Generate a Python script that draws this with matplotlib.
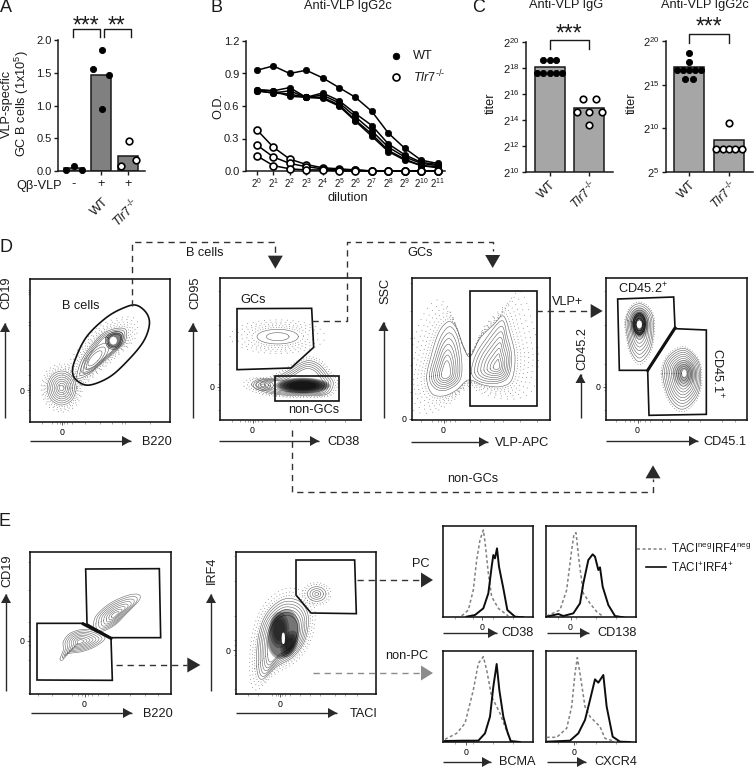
import numpy as np
import matplotlib
matplotlib.use("Agg")
import matplotlib.pyplot as plt
from matplotlib.patches import Polygon

plt.rcParams['font.family'] = ['Liberation Sans', 'DejaVu Sans']
plt.rcParams['mathtext.fontset'] = 'custom'
plt.rcParams['mathtext.rm'] = 'Liberation Sans'
plt.rcParams['mathtext.it'] = 'Liberation Sans:italic'
plt.rcParams['mathtext.default'] = 'regular'

W, H = 755, 767
fig = plt.figure(figsize=(W/100, H/100), dpi=100, facecolor='white')
TLR = r'$\mathit{Tlr7}^{\u2010/\u2010}$'.replace(r'\u2010', '\u2010')
INK = '#1a1a1a'
FS = 9.2

# ---------- data ----------
a_bars = [0.04, 1.46, 0.23]
a_pts_x = [[-0.28, 0.0, 0.28], [-0.28, 0.02, 0.29, 0.02], [-0.27, 0.02, 0.29]]
a_pts_y = [[0.01, 0.08, 0.01], [1.56, 1.85, 1.47, 0.95], [0.07, 0.46, 0.17]]

dil = list(range(12))
wt_curves = [
    [.93, .97, .90, .93, .86, .77, .68, .55, .35, .21, .10, .07],
    [.75, .74, .77, .68, .72, .65, .53, .42, .25, .15, .08, .06],
    [.74, .72, .74, .68, .70, .63, .50, .37, .22, .13, .07, .05],
    [.74, .72, .71, .68, .68, .61, .47, .34, .19, .11, .05, .04],
    [.75, .74, .69, .68, .67, .60, .46, .32, .18, .10, .05, .03],
]
ko_curves = [
    [.38, .22, .11, .06, .03, .02, .01, .0, .0, .0, .0, .0],
    [.24, .13, .07, .04, .02, .01, .01, .0, .0, .0, .0, .0],
    [.14, .05, .02, .01, .01, .0, .0, .0, .0, .0, .0, .0],
]

c1_bars = [18.07, 14.95]
c1_wt_x = [-0.32, -0.16, 0, 0.16, 0.32, -0.16, 0, 0.16]
c1_wt_y = [17.62, 17.62, 17.62, 17.62, 17.62, 18.62, 18.62, 18.62]
c1_ko_x = [-0.32, 0, 0.32, -0.16, 0.16, 0]
c1_ko_y = [14.65, 14.65, 14.65, 15.65, 15.65, 13.65]

c2_bars = [17.0, 8.64]
c2_wt_x = [0, 0, -0.3, -0.15, 0, 0.15, 0.3, -0.1, 0.1]
c2_wt_y = [18.6, 17.6, 16.67, 16.67, 16.67, 16.67, 16.67, 15.64, 15.64]
c2_ko_x = [0, -0.32, -0.16, 0, 0.16, 0.32]
c2_ko_y = [10.6, 7.64, 7.64, 7.64, 7.64, 7.64]


def axpx(x0, y0, x1, y1, **kw):
    return fig.add_axes([x0/W, 1-y1/H, (x1-x0)/W, (y1-y0)/H], **kw)


def style(ax):
    for s in ('top', 'right'):
        ax.spines[s].set_visible(False)
    for s in ('left', 'bottom'):
        ax.spines[s].set_linewidth(1.1)
        ax.spines[s].set_color(INK)
    ax.tick_params(length=3, width=1.0, color=INK, pad=1.5, labelsize=8, labelcolor=INK)
    ax.patch.set_alpha(0)


# ---------- panel A ----------
ax = axpx(58, 40, 145, 171)
style(ax)
ax.bar(range(3), a_bars, width=0.77, color='#808080', edgecolor=INK, linewidth=1.1)
for i in range(3):
    ax.scatter(np.array(a_pts_x[i])+i, a_pts_y[i], s=23 if i == 2 else 20,
               c='white' if i == 2 else 'black', edgecolors='black', linewidths=1.2 if i == 2 else 0.6,
               zorder=3, clip_on=False)
ax.set_xlim(-0.593, 2.63)
ax.set_ylim(0, 2)
ax.set_yticks([0, .5, 1, 1.5, 2], ['0.0', '0.5', '1.0', '1.5', '2.0'])
ax.set_xticks([1, 2], ['', ''])

# ---------- panel B ----------
ax = axpx(245.7, 41, 445, 171)
style(ax)
for c in wt_curves:
    ax.plot(dil, c, '-o', color='black', lw=1.1, ms=4.6, mfc='black', mew=0.5, clip_on=False, zorder=3)
for c in ko_curves:
    ax.plot(dil, c, '-o', color='black', lw=1.1, ms=5, mfc='white', mew=1.2, clip_on=False, zorder=4)
ax.set_xlim(-0.68, 11.45)
ax.set_ylim(0, 1.2)
ax.set_yticks([0, .3, .6, .9, 1.2], ['0.0', '0.3', '0.6', '0.9', '1.2'])
ax.set_xticks(dil, [rf'$2^{{{d}}}$' for d in dil])
ax.tick_params(axis='x', labelsize=7, pad=1)


# ---------- panel C ----------
def titer(box, ylim, yt, bars, wx, wy, kx, ky):
    ax = axpx(*box)
    style(ax)
    ax.bar([0, 1], bars, width=0.75, color='#a6a6a6', edgecolor=INK, linewidth=1.1, bottom=0)
    ax.scatter(wx, wy, s=20, c='black', edgecolors='black', linewidths=0.6, zorder=3, clip_on=False)
    ax.scatter(np.array(kx)+1, ky, s=22, c='white', edgecolors='black', linewidths=1.2, zorder=3, clip_on=False)
    ax.set_ylim(*ylim)
    ax.set_yticks(yt, [rf'$2^{{{v}}}$' for v in yt])
    ax.set_xticks([0, 1])
    ax.set_xticklabels(['WT', TLR], rotation=45, ha='right', rotation_mode='anchor', fontsize=FS)
    ax.tick_params(axis='x', pad=1.5)
    return ax


ax = titer((526, 42, 613, 172), (10, 20), [10, 12, 14, 16, 18, 20], c1_bars, c1_wt_x, c1_wt_y, c1_ko_x, c1_ko_y)
ax.set_xlim(-0.6, 1.6)
ax = titer((666, 41, 753, 172), (5, 20), [5, 10, 15, 20], c2_bars, c2_wt_x, c2_wt_y, c2_ko_x, c2_ko_y)
ax.set_xlim(-0.58, 1.6)

# ---------- overlay in reference pixels ----------
ov = fig.add_axes([0, 0, 1, 1], zorder=20)
ov.set_xlim(0, W)
ov.set_ylim(H, 0)
ov.axis('off')


def z3(p):
    return np.array(p, float)/3+[0, 230]


def z4(p):
    return np.array(p, float)/3+[370, 230]


def z5(p):
    return np.array(p, float)/3+[0, 510]


def z6(p):
    return np.array(p, float)/3+[420, 510]


def txt(x, y, s, size=FS, rot=0, ha='center', va='center', **kw):
    ov.text(x, y, s, fontsize=size, rotation=rot, ha=ha, va=va, color=INK, **kw)


def tri(x, y, direction, length=12, width=14, color='#2a2a2a'):
    dx, dy = {'r': (1, 0), 'l': (-1, 0), 'u': (0, -1), 'd': (0, 1)}[direction]
    px, py = -dy, dx
    ov.add_patch(Polygon([[x+dx*length, y+dy*length],
                          [x+px*width/2, y+py*width/2],
                          [x-px*width/2, y-py*width/2]], closed=True, fc=color, ec='none'))


def solid_arrow(x0, y0, x1, y1):
    ov.plot([x0, x1], [y0, y1], color='#2a2a2a', lw=1.0, solid_capstyle='butt')
    if x1 > x0:
        tri(x1-9, y1, 'r', 9, 10)
    else:
        tri(x1, y1+9, 'u', 9, 10)


def dashed(pts, color='#333333'):
    pts = np.array(pts)
    ov.plot(pts[:, 0], pts[:, 1], color=color, lw=1.0, ls=(0, (4.5, 3.5)))


# letters and titles
for (x, y, s) in [(6, 7, 'A'), (216, 7, 'B'), (479, 7, 'C'), (6, 247, 'D'), (5, 521, 'E')]:
    txt(x, y, s, size=13)
txt(348, 6, 'Anti-VLP IgG2c')
txt(566, 5, 'Anti-VLP IgG')
txt(705, 5, 'Anti-VLP IgG2c')
txt(348, 198, 'dilution')
txt(218, 106, 'O.D.', rot=90)
txt(491, 103, 'titer', rot=90)
txt(632, 103, 'titer', rot=90)

# panel A annotations
txt(7, 104, 'VLP-specfic', rot=90)
txt(22, 104, r'GC B cells (1x10$^{5}$)', rot=90)
txt(39, 186, 'Q\u03b2-VLP')
txt(74, 184, '-')
txt(101, 184, '+')
txt(128, 184, '+')
txt(103, 196, 'WT', rot=45, ha='right', va='top', rotation_mode='anchor')
txt(131, 196, TLR, rot=45, ha='right', va='top', rotation_mode='anchor')


def bracket(x0, x1, ytop, ybot):
    ov.plot([x0, x0, x1, x1], [ybot, ytop, ytop, ybot], color=INK, lw=1.0)


def stars(x, y, s):
    ov.text(x, y, s, fontsize=16.5, ha='center', va='center', color=INK)


stars(86, 26, '***')
stars(117, 26, '**')
bracket(72.7, 100, 28.7, 36.7)
bracket(103.7, 131, 28.7, 36.7)
stars(569, 34, '***')
bracket(549.7, 589.3, 40.3, 48.7)
stars(709, 27, '***')
bracket(689.3, 729, 34.3, 42.7)

# panel B legend
ov.scatter([396], [56], s=22, c='black', edgecolors='black', linewidths=0.6)
ov.scatter([396], [77], s=25, c='white', edgecolors='black', linewidths=1.2)
txt(413, 56, 'WT', ha='left')
txt(413, 77, TLR, ha='left')


# ---------- flow helpers ----------
def spline(pts, n=14):
    p = np.asarray(pts, float)
    m = len(p)
    t = np.linspace(0, 1, n, endpoint=False)[:, None]
    out = []
    for i in range(m):
        p0, p1, p2, p3 = p[(i-1) % m], p[i], p[(i+1) % m], p[(i+2) % m]
        out.append(0.5*((2*p1)+(p2-p0)*t+(2*p0-5*p1+4*p2-p3)*t**2+(3*p1-p0-3*p2+p3)*t**3))
    out = np.vstack(out)
    return np.vstack([out, out[:1]])


def oval(cx, cy, rx, ry, angle=0, n=8):
    a = np.linspace(0, 2*np.pi, n, endpoint=False)
    x, y = rx*np.cos(a), ry*np.sin(a)
    r = np.radians(angle)
    return np.c_[cx+x*np.cos(r)-y*np.sin(r), cy+x*np.sin(r)+y*np.cos(r)]


def nest(ax, outline, focus, factors, color='#6a6a6a', lw=0.42):
    line = spline(outline)
    for f in factors:
        q = focus+f*(line-focus)
        ax.plot(q[:, 0], q[:, 1], color=color, lw=lw, zorder=3)


def halo(ax, outline, focus, factors, color='#666666'):
    line = spline(outline)
    for i, f in enumerate(factors):
        q = focus+f*(line-focus)
        ax.plot(q[:, 0], q[:, 1], color=color, lw=0.55, zorder=2,
                ls=(i*0.7, (0.3, 3.2+1.0*i)), dash_capstyle='round')


def dark(ax, outline, focus, factors, alpha=0.3, color='black'):
    line = spline(outline)
    for f in factors:
        q = focus+f*(line-focus)
        ax.fill(q[:, 0], q[:, 1], color=color, alpha=alpha, lw=0, zorder=3)


def poly(ax, pts, lw=1.2):
    p = np.asarray(pts)
    ax.add_patch(Polygon(p, closed=True, fc='none', ec='#111111', lw=lw, zorder=5, joinstyle='miter'))


def flow(x0, y0, x1, y1, x_zero=None, y_zero=None, xminor=(), yminor=()):
    ax = axpx(x0, y0, x1, y1)
    ax.set_xlim(x0, x1)
    ax.set_ylim(y1, y0)
    for s in ax.spines.values():
        s.set_linewidth(1.15)
        s.set_color('#111111')
    ax.set_xticks([x_zero] if x_zero else [], ['0'] if x_zero else [])
    ax.set_yticks([y_zero] if y_zero else [], ['0'] if y_zero else [])
    ax.set_xticks(list(xminor), minor=True)
    ax.set_yticks(list(yminor), minor=True)
    ax.tick_params(which='major', length=2.2, width=0.6, labelsize=6.3, pad=2, color='#444444')
    ax.tick_params(which='minor', length=1.4, width=0.4, color='#666666')
    return ax


D1 = (30, 279, 170, 422)
D2 = (220, 278, 361, 420)
D3 = (412, 278, 550, 420)
D4 = (606, 278, 747, 420)
E1 = (30, 552, 171, 694)
E2 = (236, 552, 376, 694)

# ---------- D1 ----------
ax = flow(*D1, x_zero=62, y_zero=390,
          xminor=[42, 52, 57, 60, 64, 67, 72, 85, 100, 112, 122, 125, 150],
          yminor=[290, 292, 294, 322, 325, 360, 375, 385, 388, 392, 395, 410])
d1_a = np.array(oval(61.7, 388, 14.5, 17))
fa = np.array([61.7, 388])
halo(ax, d1_a, fa, [1.1, 1.2, 1.3, 1.42])
nest(ax, d1_a, fa, [1, .88, .76, .64, .52, .4, .28, .16])
d1_out = z3([(230, 440), (245, 390), (280, 340), (310, 310), (350, 295), (378, 300), (375, 335),
             (345, 365), (310, 395), (270, 430), (240, 445)])
fb = z3([(325, 350)])[0]
halo(ax, d1_out, fb, [1.1, 1.2, 1.32, 1.45, 1.6])
nest(ax, d1_out, fb, [1, .9, .8, .7], color='#5a5a5a')
lobe = z3(oval(285, 385, 22, 58, 42, n=10))
nest(ax, lobe, z3([(285, 385)])[0], [1, .75, .5], color='#666666')
d1_h = z3([(318, 322), (345, 305), (368, 312), (365, 340), (345, 358), (322, 350)])
fh = z3([(342, 332)])[0]
nest(ax, d1_h, fh, [1, .85, .7], color='#444444', lw=0.5)
dark(ax, d1_h, fh, [.85, .65], alpha=0.3)
ax.fill(*z3(oval(340, 332, 9, 10)).T, color='white', zorder=4)
poly(ax, spline(z3([(218, 430), (225, 390), (260, 320), (320, 262), (375, 232), (410, 226), (440, 250),
                    (448, 285), (430, 335), (385, 390), (330, 440), (270, 465), (235, 455)])))
ax.text(*z3([(241, 228)])[0], 'B cells', fontsize=FS, ha='center', va='center', color=INK, zorder=6)

# ---------- D2 ----------
ax = flow(*D2, x_zero=252.5, y_zero=387,
          xminor=[232, 240, 245, 248, 250, 255, 258, 262, 275, 290, 300, 312, 325, 345],
          yminor=[291, 325, 364, 384, 390, 410])
f = z3([(833, 320)])[0]
gc = z3(oval(833, 320, 62, 22, n=10))
halo(ax, gc, f, [1.25, 1.5, 1.75, 2.0, 2.3])
nest(ax, gc, f, [1, .55], color='#666666')
ng = z3([(755, 465), (775, 448), (820, 445), (860, 425), (900, 400), (930, 392), (960, 405), (985, 435),
         (1000, 460), (985, 490), (940, 497), (850, 495), (790, 485)])
fn = z3([(915, 465)])[0]
halo(ax, ng, fn, [1.08, 1.16])
nest(ax, ng, fn, [1, .92, .84, .76, .68], color='#666666')
nest(ax, z3(oval(790, 466, 30, 16)), z3([(790, 466)])[0], [1, .75, .5, .25], color='#666666')
cn = z3([(908, 467)])[0]
blob = z3(oval(908, 467, 82, 24, n=12))
dark(ax, blob, cn, [1, .92, .84, .74, .62, .5], alpha=0.33)
ax.text(*z3([(758, 210)])[0], 'GCs', fontsize=FS, ha='center', va='center', color=INK, zorder=6)
ax.text(*z3([(940, 540)])[0], 'non-GCs', fontsize=FS, ha='center', va='center', color=INK, zorder=6)
poly(ax, z3([(711, 236), (935, 235), (941, 352), (873, 414), (711, 419)]))
poly(ax, z3([(825, 438), (1016, 438), (1016, 512), (825, 512)]))

# ---------- D3 ----------
ax = flow(*D3, x_zero=443.5, y_zero=419,
          xminor=[421, 432, 438, 441, 446, 450, 455, 470, 480, 494, 503, 520, 537],
          yminor=[283, 311, 338, 365, 392])
sc = z4([(170, 445), (180, 390), (205, 310), (235, 275), (260, 295), (280, 350), (300, 380), (330, 325),
         (370, 285), (400, 258), (420, 310), (435, 380), (425, 450), (390, 470), (340, 465), (295, 450),
         (260, 480), (220, 498), (185, 490)])
fs = z4([(300, 400)])[0]
halo(ax, sc, fs, [1.06, 1.13, 1.21, 1.3, 1.4, 1.52])
nest(ax, sc, fs, [1], color='#666666')
l_lobe = z4([(178, 440), (195, 370), (215, 315), (240, 290), (262, 320), (275, 390), (270, 450), (230, 480), (195, 475)])
nest(ax, l_lobe, z4([(228, 432)])[0], [1, .87, .75, .63, .51, .4, .28], color='#666666')
r_lobe = z4([(305, 430), (315, 380), (345, 330), (395, 272), (412, 320), (425, 380), (415, 440), (380, 460), (330, 455)])
nest(ax, r_lobe, z4([(382, 410)])[0], [1, .88, .76, .64, .52, .4, .28, .16], color='#666666')
poly(ax, z4([(299, 182), (501, 182), (501, 528), (299, 528)]))

# ---------- D4 ----------
ax = flow(*D4, x_zero=637.5, y_zero=387,
          xminor=[616, 625, 630, 634, 640, 645, 650, 662, 670, 688, 700, 722, 735],
          yminor=[291, 325, 364, 384, 390, 410])
top = z4([(768, 270), (785, 232), (815, 222), (845, 250), (850, 300), (840, 360), (810, 395), (785, 370), (772, 320)])
ft = z4([(808, 285)])[0]
halo(ax, top, ft, [1.08])
nest(ax, top, ft, [1, .9, .8, .7, .6, .5, .4, .3, .22], color='#666666')
dark(ax, z4(oval(808, 280, 30, 48)), ft, [1, .85, .7, .55], alpha=0.2)
nest(ax, z4(oval(808, 282, 18, 32)), ft, [1, .85, .6], color='#222222', lw=0.8)
ax.fill(*z4(oval(808, 283, 6, 10)).T, color='white', zorder=4)
lo = z4([(878, 430), (895, 380), (940, 355), (980, 385), (992, 430), (985, 490), (955, 530), (925, 535), (895, 500)])
fl = z4([(943, 430)])[0]
halo(ax, lo, fl, [1.07])
nest(ax, lo, fl, [1, .92, .84, .76, .68, .6, .52, .44, .36, .28, .2, .13], color='#666666')
dark(ax, z4(oval(943, 430, 36, 40)), fl, [1, .7], alpha=0.14)
ax.fill(*z4(oval(943, 430, 5, 9)).T, color='white', zorder=4)
poly(ax, z4([(743, 207), (911, 201), (915, 294), (833, 421), (748, 421)]))
poly(ax, z4([(915, 296), (1009, 300), (1009, 553), (837, 556), (833, 421)]))
bold = z4([(833, 421), (915, 294)])
ax.plot(bold[:, 0], bold[:, 1], color='#111111', lw=2.2, zorder=6)
ax.text(*z4([(820, 177)])[0], r'CD45.2$^{+}$', fontsize=FS, ha='center', va='center', color=INK, zorder=6)
ax.text(*z4([(1043, 430)])[0], r'CD45.1$^{+}$', fontsize=FS, rotation=-90, ha='center', va='center', color=INK, zorder=6)

# ---------- E1 ----------
ax = flow(*E1, x_zero=84.5, y_zero=641,
          xminor=[38, 52, 72, 78, 82, 88, 92, 98, 108, 130, 145, 158],
          yminor=[562, 590, 622, 636, 645, 660, 693])
e_lo = z5([(180, 447), (190, 420), (190, 395), (210, 370), (250, 358), (290, 365), (315, 385), (285, 410),
           (245, 425), (200, 432), (188, 450)])
f5 = z5([(240, 395)])[0]
nest(ax, e_lo, f5, [1, .88, .76, .64, .52, .4, .28, .16], color='#6e6e6e')
e_up = z5([(280, 345), (290, 315), (330, 280), (380, 257), (415, 253), (418, 270), (385, 305), (345, 345), (305, 365), (285, 365)])
f6 = z5([(345, 315)])[0]
nest(ax, e_up, f6, [1, .88, .76, .64, .52, .4, .28, .16], color='#6e6e6e')
poly(ax, z5([(111, 340), (250, 340), (333, 385), (337, 511), (111, 510)]))
poly(ax, z5([(257, 177), (478, 176), (482, 383), (333, 383), (261, 342)]))
bold = z5([(250, 342), (333, 385)])
ax.plot(bold[:, 0], bold[:, 1], color='#111111', lw=2.2, zorder=6)

# ---------- E2 ----------
ax = flow(*E2, x_zero=280, y_zero=650,
          xminor=[248, 258, 272, 276, 278, 282, 285, 290, 300, 310, 320, 335, 345, 357],
          yminor=[556, 581, 616, 640, 645, 655, 689])
small = z5(oval(950, 252, 28, 22))
fm = z5([(950, 252)])[0]
halo(ax, small, fm, [1.3, 1.55])
nest(ax, small, fm, [1, .72, .45, .2], color='#666666')
main = z5([(770, 470), (775, 380), (800, 310), (850, 268), (900, 275), (925, 320), (915, 390), (880, 440), (830, 470), (785, 508)])
fM = z5([(848, 385)])[0]
halo(ax, main, fM, [1.07, 1.16, 1.26])
nest(ax, main, fM, [1, .93, .86, .79, .72, .65, .58], color='#666666')
dark(ax, z5(oval(850, 372, 47, 76, 12, n=10)), fM, [1, .9], alpha=0.32)
b1 = z5(oval(838, 360, 30, 55, n=10))
dark(ax, b1, z5([(838, 360)])[0], [1, .8, .6], alpha=0.28)
b2 = z5(oval(868, 402, 24, 42, 20, n=10))
dark(ax, b2, z5([(868, 402)])[0], [1, .75, .5], alpha=0.32)
ax.fill(*z5(oval(850, 385, 3, 16)).T, color='white', zorder=4)
poly(ax, z5([(888, 150), (1064, 150), (1069, 311), (933, 309), (888, 255)]))

# ---------- histograms ----------
h_boxes = [(443, 526, 533, 617), (546, 526, 636, 617), (443, 651, 533, 742), (546, 651, 636, 742)]
h_zero = [482, 570.5, 466, 574]
h_gray = [
    [(125, 318), (145, 300), (160, 240), (170, 150), (180, 90), (190, 60), (195, 95), (205, 190), (215, 260), (235, 295), (265, 318)],
    [(380, 318), (420, 300), (440, 240), (455, 120), (462, 72), (468, 68), (478, 160), (490, 250), (510, 280), (530, 305), (550, 320)],
    [(75, 688), (110, 670), (135, 640), (160, 540), (175, 460), (190, 440), (200, 480), (215, 560), (240, 610), (255, 650), (272, 692)],
    [(380, 682), (410, 682), (440, 655), (455, 590), (465, 490), (472, 443), (480, 490), (495, 590), (510, 620), (540, 650), (555, 685), (590, 696)],
]
h_black = [
    [(140, 320), (165, 315), (190, 295), (205, 250), (215, 170), (220, 135), (225, 145), (231, 115), (237, 170), (250, 235), (262, 300), (285, 320), (310, 322)],
    [(380, 320), (415, 312), (430, 318), (460, 310), (480, 280), (490, 220), (505, 150), (518, 133), (525, 140), (535, 180), (540, 172), (548, 230), (565, 285), (585, 318), (610, 322)],
    [(75, 693), (130, 692), (175, 692), (195, 670), (210, 620), (220, 530), (230, 462), (238, 540), (250, 620), (262, 665), (272, 693), (300, 696)],
    [(380, 695), (450, 692), (475, 670), (495, 630), (510, 570), (525, 508), (535, 518), (550, 495), (560, 590), (578, 680), (600, 695), (630, 696)],
]
for box, zero, g, b in zip(h_boxes, h_zero, h_gray, h_black):
    ax = flow(*box, x_zero=zero)
    ax.set_xticks([box[0]+12, box[0]+30, box[0]+50, box[0]+70], minor=True)
    g, b = z6(g), z6(b)
    ax.plot(g[:, 0], g[:, 1], color='#808080', lw=1.1, ls=(0, (2, 1.6)), zorder=3)
    ax.plot(b[:, 0], b[:, 1], color='#0d0d0d', lw=1.4, zorder=4)

# legend of histograms
ov.plot(*z6([(650, 117), (738, 117)]).T, color='#808080', lw=1.1, ls=(0, (2, 1.6)))
ov.plot(*z6([(678, 172), (738, 172)]).T, color='#0d0d0d', lw=1.2)
txt(*z6([(753, 118)])[0], r'TACI$^{neg}$IRF4$^{neg}$', ha='left', size=8.3)
txt(*z6([(753, 174)])[0], r'TACI$^{+}$IRF4$^{+}$', ha='left', size=8.3)

# ---------- axis arrows and labels ----------
for ax_x, tx, ty, y0, y1, s in [(5, 6, 293, 418, 323, 'CD19'), (193, 195, 293, 418, 323, 'CD95'),
                                (383.5, 385, 291, 418, 322, 'SSC'), (580.5, 582, 349, 418, 374, 'CD45.2'),
                                (6, 7, 571, 691, 594, 'CD19'), (211, 212, 570, 691, 594, 'IRF4')]:
    solid_arrow(ax_x, y0, ax_x, y1)
    txt(tx, ty, s, rot=90)
for x0, x1, y, tx, s in [(30, 131, 441, 157, 'B220'), (219, 319, 441, 344, 'CD38'),
                         (411, 488, 442, 522, 'VLP-APC'), (606, 698, 441, 725, 'CD45.1'),
                         (31, 132, 713, 158, 'B220'), (236, 337, 713, 364, 'TACI')]:
    solid_arrow(x0, y, x1, y)
    txt(tx, y+1, s)
for x0, x1, y, tx, s in [(443, 497, 633, 518, 'CD38'), (547, 589, 633, 617, 'CD138'),
                         (443, 491, 762, 517, 'BCMA'), (547, 586, 762, 616, 'CXCR4')]:
    solid_arrow(x0, y, x1, y)
    txt(tx, y, s)

# ---------- gating connectors ----------
dashed(z3([(396, 228), (396, 35), (826, 35), (826, 72)]))
tri(*z3([(826, 77)])[0], 'd', 13, 15)
txt(*z3([(613, 68)])[0], 'B cells')
p = z3([(935, 273), (1040, 273), (1040, 35)])
q = z4([(368, 35), (368, 62)])
dashed(list(p)+list(q))
tri(*z4([(368, 75)])[0], 'd', 13, 15)
txt(*z4([(150, 68)])[0], 'GCs')
p = z3([(877, 600), (877, 785)])
q = z4([(850, 785), (850, 748)])
dashed(list(p)+list(q))
tri(*z4([(849, 745)])[0], 'u', 13, 15)
txt(*z4([(308, 746)])[0], 'non-GCs')
dashed(z4([(497, 243), (662, 243)]))
tri(*z4([(662, 243)])[0], 'r', 12, 14)
txt(*z4([(592, 215)])[0], 'VLP+')
dashed(z5([(347, 465), (560, 465)]))
tri(*z5([(562, 465)])[0], 'r', 13, 15)
dashed(z5([(1070, 211), (1262, 211)]))
tri(421, 580, 'r', 12, 15)
txt(*z5([(1262, 163)])[0], 'PC')
dashed(z5([(938, 490), (1262, 490)]), color='#8c8c8c')
tri(421, 673, 'r', 12, 15, color='#8c8c8c')
txt(*z5([(1220, 438)])[0], 'non-PC')

fig.savefig('out.png', dpi=100, facecolor='white')
